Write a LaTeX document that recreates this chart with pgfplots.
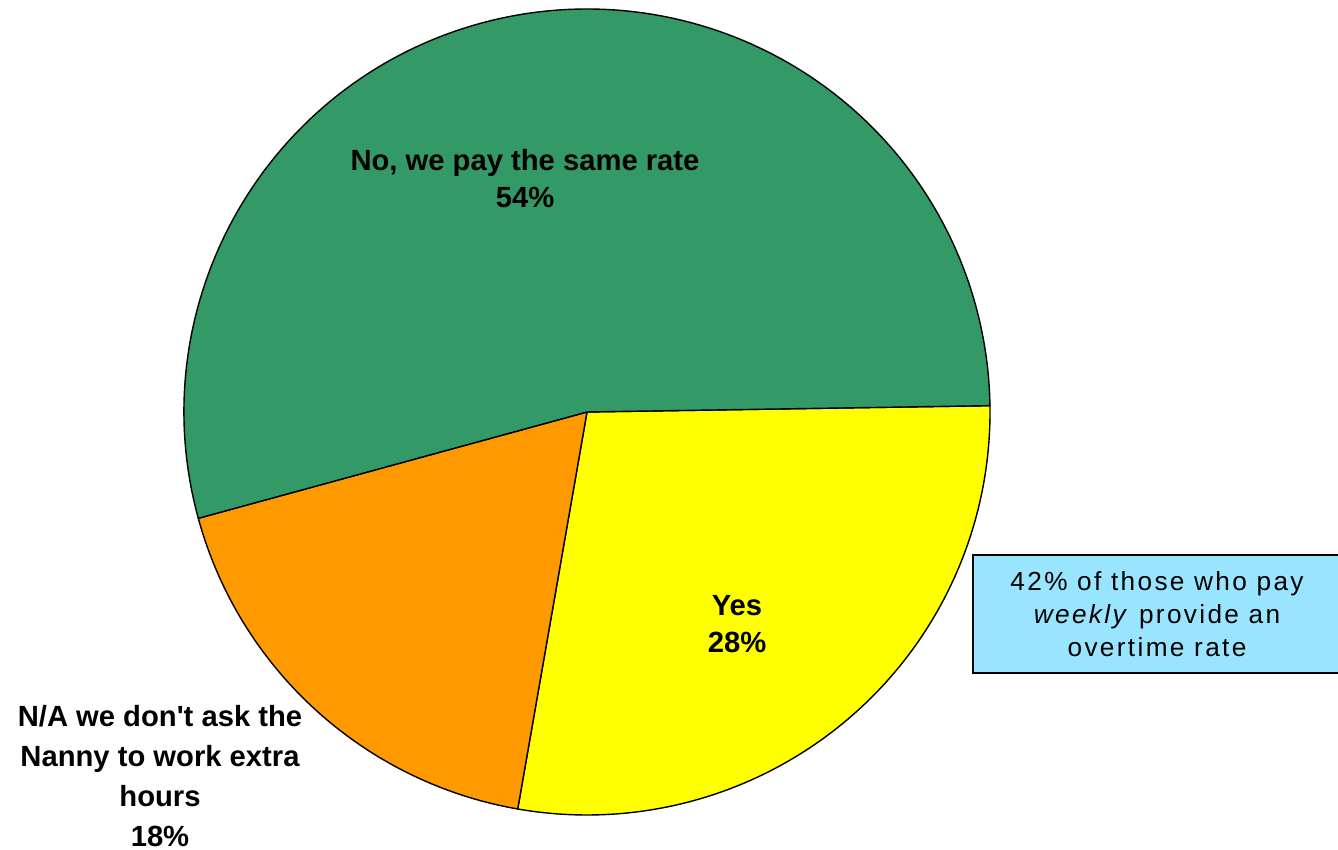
\documentclass[border=0pt]{standalone}
\usepackage{pgfplots}
\pgfplotsset{compat=1.18}
\usepackage{fontspec}
\setmainfont{Liberation Sans}[Ligatures=TeXOff]
\newfontfamily\spaced{Liberation Sans}[LetterSpace=9,Ligatures=TeXOff]
\definecolor{pgreen}{HTML}{339966}
\definecolor{pyellow}{HTML}{FFFF00}
\definecolor{porange}{HTML}{FF9900}
\definecolor{pbox}{HTML}{99E5FF}
% data (percent)
\def\pYes{28}
\def\pNA{18}
\def\pNo{54}
\def\startang{0.9}
\begin{document}
\begin{tikzpicture}
\begin{axis}[
  x=0.5pt, y=0.5pt, scale only axis,
  xmin=0, xmax=1338, ymin=0, ymax=850,
  hide axis, clip=false,
]
\pgfmathsetmacro{\aA}{\startang}
\pgfmathsetmacro{\aB}{\startang-\pYes*3.6}
\pgfmathsetmacro{\aC}{\aB-\pNA*3.6}
\pgfmathsetmacro{\aD}{\aC-\pNo*3.6}
\filldraw[fill=pyellow, draw=black, line width=0.7pt, line join=round]
  (axis cs:587,438) -- ++(\aA:201.5pt) arc[start angle=\aA, end angle=\aB, radius=201.5pt] -- cycle;
\filldraw[fill=porange, draw=black, line width=0.7pt, line join=round]
  (axis cs:587,438) -- ++(\aB:201.5pt) arc[start angle=\aB, end angle=\aC, radius=201.5pt] -- cycle;
\filldraw[fill=pgreen, draw=black, line width=0.7pt, line join=round]
  (axis cs:587,438) -- ++(\aC:201.5pt) arc[start angle=\aC, end angle=\aD, radius=201.5pt] -- cycle;

\node[font=\bfseries\fontsize{14.6}{18.5}\selectfont, align=center, anchor=center]
  at (axis cs:525,671) {No, we pay the same rate\\54\%};
\node[font=\bfseries\fontsize{14.6}{18.5}\selectfont, align=center, anchor=center]
  at (axis cs:737,226) {Yes\\28\%};
\node[font=\bfseries\fontsize{14.6}{20}\selectfont, align=center, anchor=center]
  at (axis cs:160,74) {N/A we don't ask the\\Nanny to work extra\\hours\\18\%};
\filldraw[fill=pbox, draw=black, line width=0.6pt]
  (axis cs:973,177) rectangle (axis cs:1350,295);
\node[font=\spaced\fontsize{13.1}{16.5}\selectfont, align=center, anchor=center]
  at (axis cs:1157,236) {42\% of those who pay\\\textit{weekly} provide an\\overtime rate};
\end{axis}
\pgfresetboundingbox
\path (current axis.south west) rectangle (current axis.north east);
\end{tikzpicture}
\end{document}
